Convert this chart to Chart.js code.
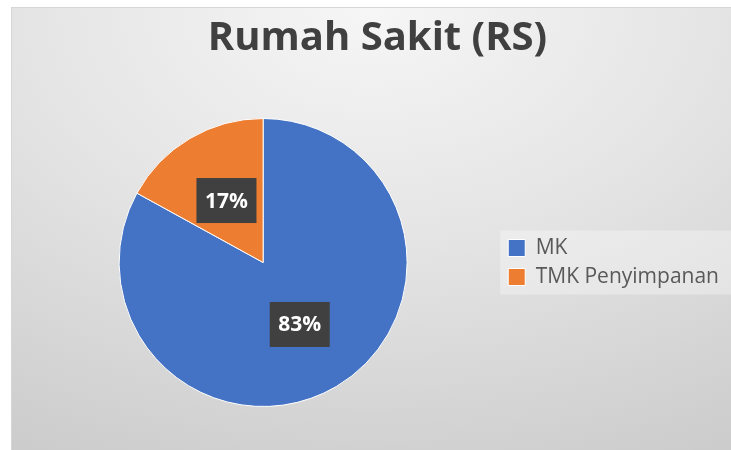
<!DOCTYPE html>
<html>
<head>
<meta charset="utf-8">
<script src="https://cdn.jsdelivr.net/npm/chart.js@4.4.1/dist/chart.umd.min.js"></script>
<style>
  html, body { margin: 0; padding: 0; background: #ffffff; }
  #wrap {
    position: absolute; left: 11px; top: 7px; width: 720px; height: 443px;
    background: radial-gradient(ellipse 110% 120% at 50% 0%, #f6f6f6 0%, #e4e4e4 45%, #c9c9c9 100%);
    border-top: 1px solid #d6d6d6; border-left: 1px solid #d6d6d6; box-sizing: border-box;
  }
  canvas { display: block; }
</style>
</head>
<body>
<div id="wrap"><canvas id="c" width="719" height="442"></canvas></div>
<script>
const chartTitle = 'Rumah Sakit (RS)';
const categories = ['MK', 'TMK Penyimpanan'];
const values = [83, 17];
const valueLabels = ['83%', '17%'];
const colors = ['#4472c4', '#ed7d31'];

const legendBg = {
  id: 'legendBg',
  beforeDraw(chart) {
    const lg = chart.legend;
    if (!lg || !lg.legendHitBoxes || !lg.legendHitBoxes.length) return;
    const hb = lg.legendHitBoxes;
    const top = hb[0].top, bottom = hb[hb.length - 1].top + hb[hb.length - 1].height;
    const mid = (top + bottom) / 2;
    const ctx = chart.ctx;
    ctx.save();
    ctx.fillStyle = 'rgba(255,255,255,0.32)';
    ctx.fillRect(lg.left, mid - 32, chart.width - lg.left, 64);
    ctx.restore();
  }
};

const boxLabels = {
  id: 'boxLabels',
  afterDatasetsDraw(chart) {
    const ctx = chart.ctx;
    const meta = chart.getDatasetMeta(0);
    ctx.save();
    ctx.font = 'bold 21px "Open Sans"';
    ctx.textAlign = 'center';
    ctx.textBaseline = 'middle';
    meta.data.forEach((arc, i) => {
      const p = arc.tooltipPosition();
      const w = 60, h = 45;
      ctx.fillStyle = '#404040';
      ctx.fillRect(p.x - w / 2, p.y - h / 2, w, h);
      ctx.fillStyle = '#ffffff';
      ctx.fillText(valueLabels[i], p.x, p.y + 1);
    });
    ctx.restore();
  }
};

new Chart(document.getElementById('c'), {
  type: 'pie',
  data: {
    labels: categories,
    datasets: [{
      data: values,
      backgroundColor: colors,
      borderColor: '#ffffff',
      borderWidth: 1
    }]
  },
  options: {
    responsive: false,
    animation: false,
    layout: { padding: { left: 14, right: 2, top: 0, bottom: 43 } },
    plugins: {
      title: {
        display: true,
        text: chartTitle,
        color: '#404040',
        font: { family: 'Open Sans', size: 40, weight: 'bold' },
        padding: { top: 7, bottom: 55 }
      },
      legend: {
        position: 'right',
        align: 'center',
        fullSize: false,
        labels: {
          color: '#595959',
          font: { family: 'Open Sans', size: 21 },
          boxWidth: 17,
          boxHeight: 17,
          padding: 8
        }
      },
      tooltip: { enabled: false }
    }
  },
  plugins: [legendBg, boxLabels]
});
</script>
</body>
</html>
